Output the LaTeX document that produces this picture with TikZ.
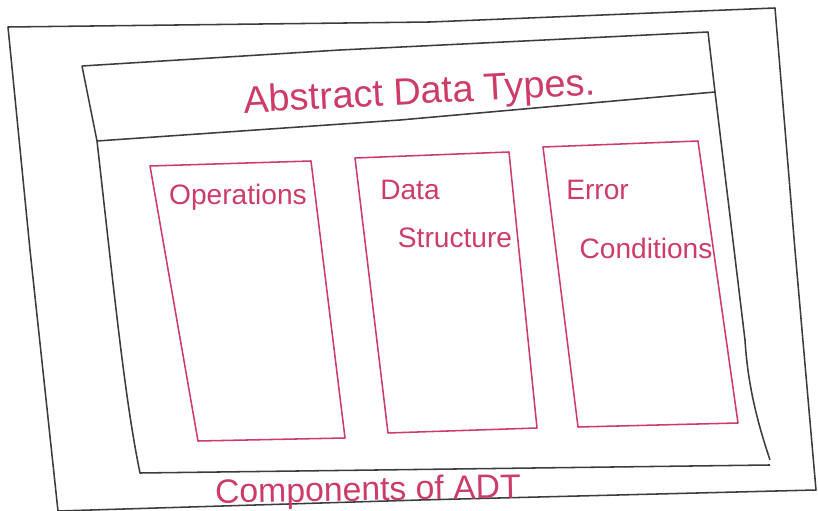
\documentclass[tikz,border=0pt]{standalone}
\usepackage{fontspec}
\setmainfont{Liberation Sans}
\usepackage{tikz}
\usetikzlibrary{positioning}
\definecolor{pengray}{RGB}{60,60,60}
\definecolor{penred}{RGB}{205,60,105}
\tikzstyle{frame} = [draw=pengray, line width=1.1pt, line join=round]
\tikzstyle{column} = [draw=penred, line width=1.1pt, line join=round]
\tikzstyle{inktext} = [text=penred, inner sep=0pt]

\begin{document}
\begin{tikzpicture}[x=0.025cm, y=-0.025cm]
        \useasboundingbox (0,0) rectangle (818,511);
        % outer sheet
        \draw [frame] (8,27) -- (430,22) -- (775,8) -- (795,250) -- (816,490)
            -- (420,500) -- (58,511) -- (30,250) -- cycle;
        % header band
        \draw [frame] (82,66) -- (340,50) -- (708,32) -- (715,92);
        \draw [frame] (82,66) -- (97,141);
        \draw [frame] (97,141) -- (400,120) -- (715,92);
        % body of the inner frame
        \draw [frame] (97,141) .. controls (115,300) and (125,400) .. (140,473)
            -- (770,465);
        \draw [frame] (715,92) -- (745,340) .. controls (748,390) and (760,430) .. (770,460);

        % the three components
        \draw [column] (150,166) -- (311,161) -- (345,438) -- (198,441) -- cycle;
        \draw [column] (355,158) -- (509,152) -- (537,428) -- (388,433) -- cycle;
        \draw [column] (543,147) -- (698,141) -- (738,423) -- (578,427) -- cycle;

        % texts
        \node (title) [inktext, rotate=3, font=\fontsize{27}{32}\selectfont] at (420,94) {Abstract Data Types.};
        \node (ops) [inktext, font=\fontsize{20}{24}\selectfont] at (238,197) {Operations};
        \node (data) [inktext, font=\fontsize{20}{24}\selectfont, anchor=west] at (380,190) {Data};
        \node (struct) [inktext, font=\fontsize{20}{24}\selectfont] at (455,238) {Structure};
        \node (error) [inktext, font=\fontsize{20}{24}\selectfont, anchor=west] at (566,190) {Error};
        \node (cond) [inktext, font=\fontsize{20}{24}\selectfont] at (646,248) {Conditions};
        \node (caption) [inktext, rotate=1, font=\fontsize{24}{28}\selectfont] at (368,492) {Components of ADT};
    \end{tikzpicture}
\end{document}
